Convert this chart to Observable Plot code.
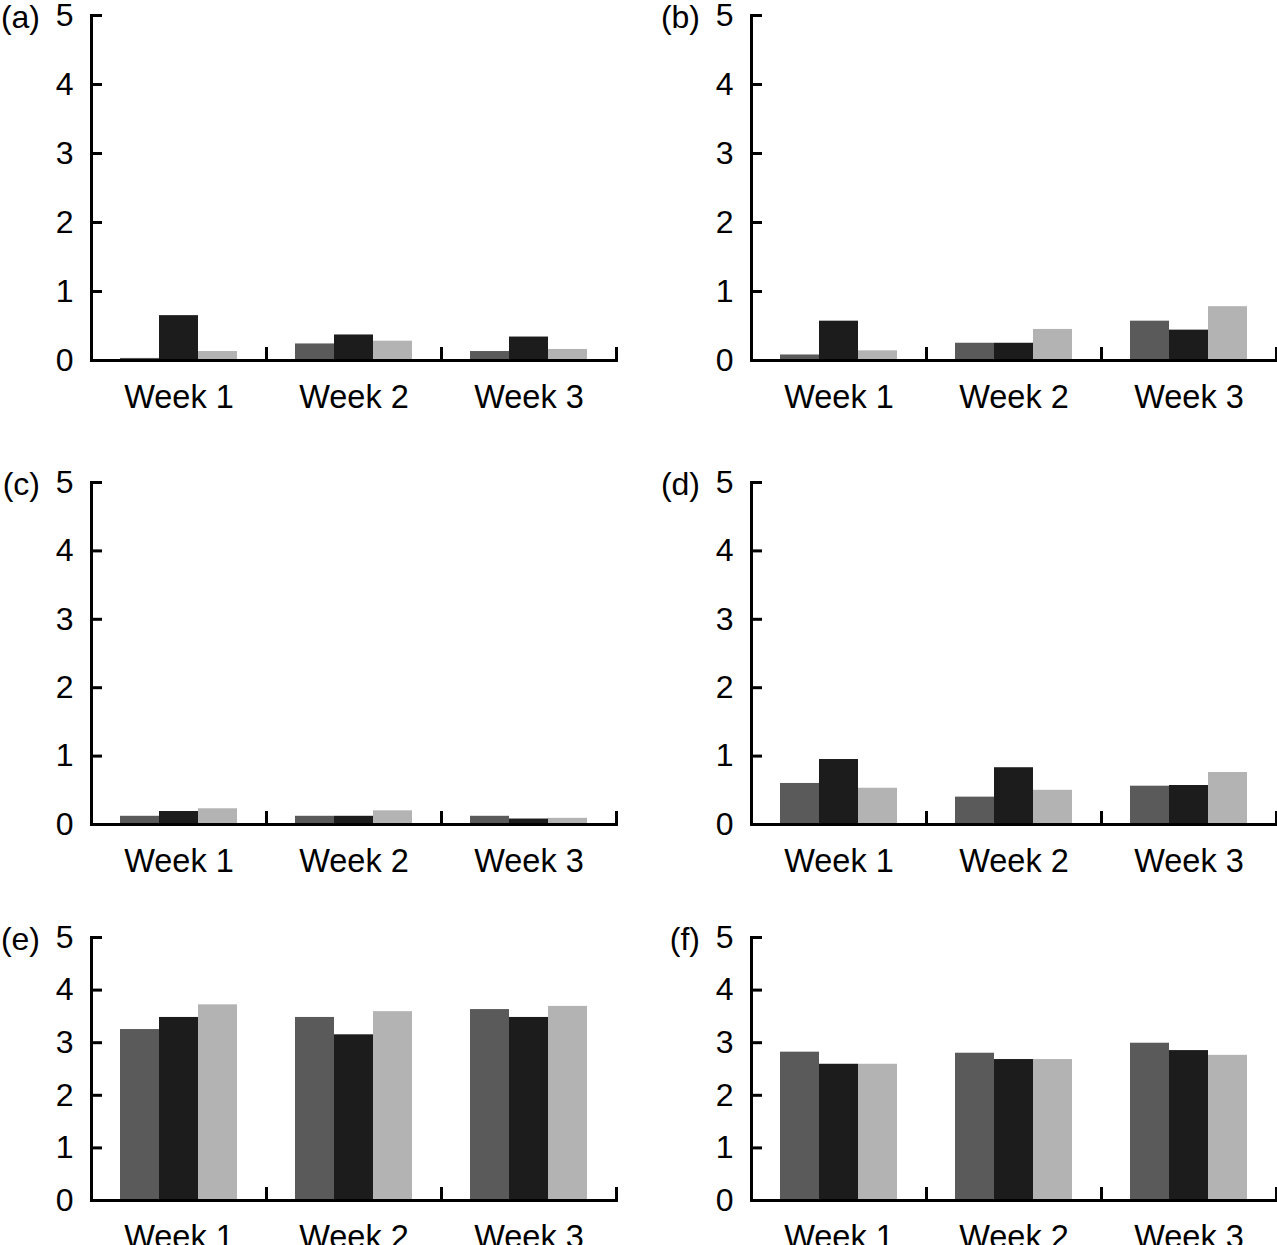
<!DOCTYPE html>
<html>
<head>
<meta charset="utf-8">
<script src="https://cdn.jsdelivr.net/npm/d3@7"></script>
<script src="https://cdn.jsdelivr.net/npm/@observablehq/plot@0.6"></script>
<style>
  body { margin: 0; background: #fff; }
  #chart { position: relative; width: 1277px; height: 1245px; overflow: hidden; font-family: "Liberation Sans", Arial, sans-serif; }
  .panel { position: absolute; }
  .tag { position: absolute; font-size: 32px; line-height: 36px; text-align: right; color: #000; }
</style>
</head>
<body>
<div id="chart"></div>
<script>
const weeks = ["Week 1", "Week 2", "Week 3"];
const groups = ["Group 1", "Group 2", "Group 3"];
const groupColors = ["#5a5a5a", "#1c1c1c", "#b3b3b3"];
const yTicks = [0, 1, 2, 3, 4, 5];

// one row per week: [dark grey, black, light grey]
const valuesA = [[0.03, 0.65, 0.13], [0.24, 0.37, 0.28], [0.13, 0.34, 0.16]];
const valuesB = [[0.08, 0.57, 0.14], [0.25, 0.25, 0.45], [0.57, 0.44, 0.78]];
const valuesC = [[0.12, 0.19, 0.23], [0.12, 0.12, 0.20], [0.12, 0.08, 0.09]];
const valuesD = [[0.60, 0.95, 0.53], [0.40, 0.83, 0.50], [0.56, 0.57, 0.76]];
const valuesE = [[3.25, 3.48, 3.72], [3.48, 3.15, 3.59], [3.63, 3.48, 3.69]];
const valuesF = [[2.82, 2.59, 2.59], [2.80, 2.68, 2.68], [2.99, 2.85, 2.76]];

const panels = [
  {tag: "(a)", values: valuesA, col: 0, top: 0, plotHeight: 345},
  {tag: "(b)", values: valuesB, col: 1, top: 0, plotHeight: 345},
  {tag: "(c)", values: valuesC, col: 0, top: 467, plotHeight: 342},
  {tag: "(d)", values: valuesD, col: 1, top: 467, plotHeight: 342},
  {tag: "(e)", values: valuesE, col: 0, top: 922, plotHeight: 263},
  {tag: "(f)", values: valuesF, col: 1, top: 922, plotHeight: 263}
];

function toRows(values) {
  const rows = [];
  weeks.forEach((w, i) => groups.forEach((g, j) => rows.push({week: w, group: g, value: values[i][j]})));
  return rows;
}

function makePanel(p) {
  const leftCol = p.col === 0;
  const width = leftCol ? 640 : 637;
  const chart = Plot.plot({
    width: width,
    height: 15 + p.plotHeight + 70,
    marginLeft: leftCol ? 90 : 110,
    marginRight: leftCol ? 24 : 1,
    marginTop: 15,
    marginBottom: 70,
    style: {fontFamily: "'Liberation Sans', Arial, sans-serif", fontSize: "32px", color: "black", background: "white", overflow: "visible"},
    fx: {domain: weeks, padding: 0, label: null},
    x: {domain: groups, paddingInner: 0, paddingOuter: 0.69, align: 0.5, axis: null},
    y: {domain: [0, 5], label: null},
    color: {domain: groups, range: groupColors},
    marks: [
      Plot.barY(toRows(p.values), {fx: "week", x: "group", y: "value", fill: "group"}),
      Plot.ruleY([0], {strokeWidth: 3}),
      Plot.frame({anchor: "left", facetAnchor: "left", strokeWidth: 3}),
      Plot.frame({anchor: "right", insetTop: p.plotHeight - 12, strokeWidth: 3}),
      Plot.axisY({ticks: yTicks, tickFormat: "d", tickSize: -11, tickPadding: 29, strokeWidth: 3, fontSize: 32, label: null}),
      Plot.axisFx({anchor: "bottom", tickSize: 0, tickPadding: 24, fontSize: 32.5, label: null})
    ]
  });

  const holder = d3.select("#chart").append("div")
    .attr("class", "panel")
    .style("left", (leftCol ? 0 : 640) + "px")
    .style("top", p.top + "px");
  holder.append(() => chart);

  d3.select("#chart").append("div")
    .attr("class", "tag")
    .style("left", (leftCol ? 0 : 640) + "px")
    .style("width", (leftCol ? 40 : 60) + "px")
    .style("top", (p.top + 15 - 16) + "px")
    .text(p.tag);
}

panels.forEach(makePanel);
</script>
</body>
</html>
